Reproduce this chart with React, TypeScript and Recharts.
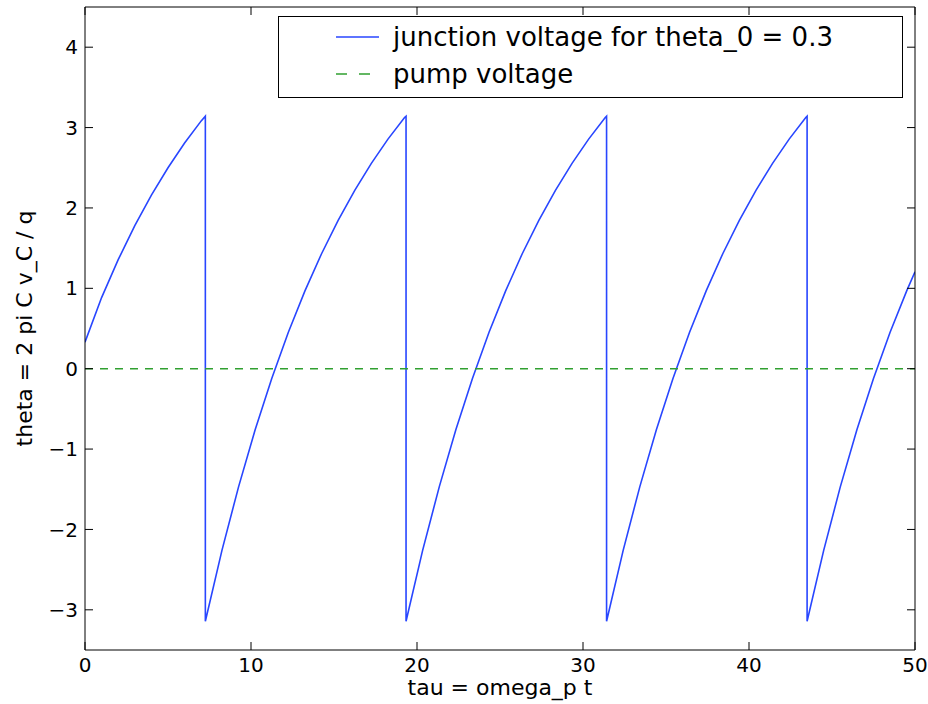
import React from 'react';
import { LineChart, Line, XAxis, YAxis, Legend, Label } from 'recharts';

// junction voltage theta(tau) (sawtooth, wraps at +/- pi)
const TAU = [
  0, 1, 2, 3, 4, 5, 6, 7, 7.25, 7.25,
  8.25, 9.25, 10.25, 11.25, 12.25, 13.25, 14.25, 15.25, 16.25, 17.25, 18.25, 19.25, 19.34, 19.34,
  20.34, 21.34, 22.34, 23.34, 24.34, 25.34, 26.34, 27.34, 28.34, 29.34, 30.34, 31.34, 31.42, 31.42,
  32.42, 33.42, 34.42, 35.42, 36.42, 37.42, 38.42, 39.42, 40.42, 41.42, 42.42, 43.42, 43.5, 43.5,
  44.5, 45.5, 46.5, 47.5, 48.5, 49.5, 50,
];
const THETA = [
  0.33, 0.885, 1.356, 1.779, 2.159, 2.5, 2.807, 3.083, 3.142, -3.142,
  -2.261, -1.47, -0.759, -0.121, 0.453, 0.968, 1.43, 1.846, 2.219, 2.554, 2.856, 3.126, 3.142, -3.142,
  -2.261, -1.47, -0.759, -0.121, 0.453, 0.968, 1.43, 1.846, 2.219, 2.554, 2.856, 3.126, 3.142, -3.142,
  -2.261, -1.47, -0.759, -0.121, 0.453, 0.968, 1.43, 1.846, 2.219, 2.554, 2.856, 3.126, 3.142, -3.142,
  -2.261, -1.47, -0.759, -0.121, 0.453, 0.968, 1.206,
];

const PUMP_TAU = [0, 50];
const PUMP_V = [0, 0];

const X_TICKS = [0, 10, 20, 30, 40, 50];
const Y_TICKS = [-3, -2, -1, 0, 1, 2, 3, 4];

const junction = TAU.map((tau, i) => ({ tau, theta: THETA[i] }));
const pump = PUMP_TAU.map((tau, i) => ({ tau, v: PUMP_V[i] }));

const FONT = '"DejaVu Sans", sans-serif';
const BLUE = '#2846ff';
const GREEN = '#30a030';

const fmt = (v: number) => (v < 0 ? '\u2212' + Math.abs(v) : String(v));

const tickStyle = { fontSize: 20, fill: '#000', fontFamily: FONT };

// top / right axes only carry tick marks, no labels
const NoLabel = () => <g />;

const LegendBox = (props: any) => {
  const items = props.payload || [];
  return (
    <svg width={626} height={83}>
      <rect x={0.5} y={0.5} width={624} height={81} fill="#fff" stroke="#000" />
      {items.map((p: any, i: number) => {
        const cy = 21 + i * 37;
        const dashed = p.payload && p.payload.strokeDasharray;
        return (
          <g key={i}>
            <line
              x1={58}
              x2={101}
              y1={cy}
              y2={cy}
              stroke={p.color}
              strokeWidth={1.6}
              strokeDasharray={dashed ? '11 12' : undefined}
            />
            <text x={115} y={cy + 9} fontSize={26} fontFamily={FONT} fill="#000">
              {p.value}
            </text>
          </g>
        );
      })}
    </svg>
  );
};

const YLabel = ({ viewBox }: any) => {
  const cx = 32;
  const cy = viewBox.y + viewBox.height / 2;
  return (
    <text
      x={cx}
      y={cy}
      transform={`rotate(-90, ${cx}, ${cy})`}
      textAnchor="middle"
      fontSize={22}
      fontFamily={FONT}
      fill="#000"
    >
      theta = 2 pi C v_C / q
    </text>
  );
};

const XLabel = ({ viewBox }: any) => {
  const cx = viewBox.x + viewBox.width / 2;
  return (
    <text x={cx} y={695} textAnchor="middle" fontSize={22} fontFamily={FONT} fill="#000">
      tau = omega_p t
    </text>
  );
};

export default function App() {
  return (
    <div style={{ position: 'absolute', left: 0, top: 0, width: 928, height: 704, background: '#fff' }}>
      <LineChart width={928} height={704} margin={{ top: 6, right: 12, left: 0, bottom: 0 }}>
        <XAxis
          xAxisId="bottom"
          dataKey="tau"
          type="number"
          domain={[0, 50]}
          ticks={X_TICKS}
          allowDataOverflow
          height={54}
          stroke="#000"
          tickSize={-8}
          tickMargin={16}
          tick={tickStyle}
          tickFormatter={fmt}
        >
          <Label content={<XLabel />} />
        </XAxis>
        <XAxis
          xAxisId="top"
          dataKey="tau"
          orientation="top"
          type="number"
          domain={[0, 50]}
          ticks={X_TICKS}
          allowDataOverflow
          height={1}
          stroke="#000"
          tickSize={-8}
          tick={<NoLabel />}
        />
        <YAxis
          yAxisId="left"
          type="number"
          domain={[-3.5, 4.5]}
          ticks={Y_TICKS}
          allowDataOverflow
          width={85}
          stroke="#000"
          tickSize={-8}
          tickMargin={15}
          tick={tickStyle}
          tickFormatter={fmt}
        >
          <Label content={<YLabel />} />
        </YAxis>
        <YAxis
          yAxisId="right"
          orientation="right"
          type="number"
          domain={[-3.5, 4.5]}
          ticks={Y_TICKS}
          allowDataOverflow
          width={1}
          stroke="#000"
          tickSize={-8}
          tick={<NoLabel />}
        />
        <Legend
          layout="horizontal"
          verticalAlign="middle"
          align="center"
          content={<LegendBox />}
          wrapperStyle={{ left: 278, top: 16, width: 626, height: 83 }}
        />
        <Line
          xAxisId="bottom"
          yAxisId="left"
          data={junction}
          dataKey="theta"
          name="junction voltage for theta_0 = 0.3"
          stroke={BLUE}
          strokeWidth={1.6}
          dot={false}
          activeDot={false}
          isAnimationActive={false}
        />
        <Line
          xAxisId="top"
          yAxisId="right"
          data={pump}
          dataKey="v"
          name="pump voltage"
          stroke={GREEN}
          strokeWidth={1.6}
          strokeDasharray="8 7"
          dot={false}
          activeDot={false}
          isAnimationActive={false}
        />
      </LineChart>
    </div>
  );
}
